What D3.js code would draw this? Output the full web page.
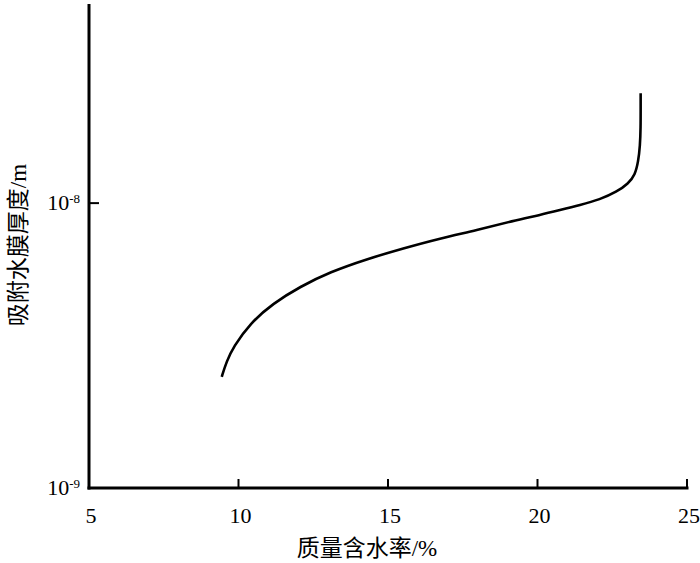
<!DOCTYPE html>
<html><head><meta charset="utf-8">
<script src="https://cdn.jsdelivr.net/npm/d3@7"></script>
<style>body{margin:0;background:#fff}svg{display:block}
.num{font-family:"Liberation Serif","DejaVu Serif",serif}
.cjk{font-family:"Liberation Serif","Noto Sans CJK SC",serif}
</style>
</head><body>
<svg id="c" width="700" height="563"></svg>
<script>
const waterContent = [9.44, 9.60, 9.83, 10.38, 11.16, 12.06, 13.06, 14.29, 15.51, 16.74, 17.97, 19.19, 20.08, 20.75, 21.42, 22.09, 22.65, 23.04, 23.26, 23.37, 23.43, 23.45, 23.45, 23.45];
const filmThickness = [2.457e-9, 2.78e-9, 3.13e-9, 3.78e-9, 4.45e-9, 5.09e-9, 5.73e-9, 6.36e-9, 6.94e-9, 7.52e-9, 8.04e-9, 8.67e-9, 9.08e-9, 9.45e-9, 9.84e-9, 1.030e-8, 1.095e-8, 1.173e-8, 1.254e-8, 1.40e-8, 1.59e-8, 1.85e-8, 2.15e-8, 2.43e-8];
const xTicks = [5, 10, 15, 20, 25];
const yTicks = [1e-9, 1e-8];
const yTickLabels = ["-9", "-8"];
const xLabel = "质量含水率/%";
const yLabel = "吸附水膜厚度/m";

const svg = d3.select("#c");
const x = d3.scaleLinear().domain([5, 25]).range([89, 687]);
const y = d3.scaleLog().domain([1e-9, 5e-8]).range([488, 4]);

const data = waterContent.map((v, i) => [v, filmThickness[i]]);
svg.append("path").datum(data)
  .attr("d", d3.line().x(d => x(d[0])).y(d => y(d[1])).curve(d3.curveBasis))
  .attr("fill", "none").attr("stroke", "#000").attr("stroke-width", 2.6);

// axes
svg.append("line").attr("x1", x(5)).attr("x2", x(5)).attr("y1", y(5e-8)).attr("y2", y(1e-9) + 1.5)
  .attr("stroke", "#000").attr("stroke-width", 3);
svg.append("line").attr("x1", x(5) - 1.5).attr("x2", x(25) + 1.5).attr("y1", y(1e-9)).attr("y2", y(1e-9))
  .attr("stroke", "#000").attr("stroke-width", 3);

xTicks.forEach(t => {
  if (t !== 5) svg.append("line").attr("x1", x(t)).attr("x2", x(t)).attr("y1", y(1e-9)).attr("y2", y(1e-9) - 9)
    .attr("stroke", "#000").attr("stroke-width", 2);
  svg.append("text").attr("class", "num").attr("x", x(t) + 2).attr("y", 523).attr("text-anchor", "middle")
    .attr("font-size", 22).text(t);
});

yTicks.forEach((t, i) => {
  if (t !== 1e-9) svg.append("line").attr("x1", x(5)).attr("x2", x(5) + 10).attr("y1", y(t)).attr("y2", y(t))
    .attr("stroke", "#000").attr("stroke-width", 2);
  const tx = svg.append("text").attr("class", "num").attr("x", 80).attr("y", y(t) + 7).attr("text-anchor", "end")
    .attr("font-size", 22);
  tx.append("tspan").text("10");
  tx.append("tspan").attr("font-size", 13).attr("dy", -7).text(yTickLabels[i]);
});

svg.append("text").attr("class", "cjk").attr("x", 367).attr("y", 556).attr("text-anchor", "middle")
  .attr("font-size", 23).text(xLabel);
svg.append("text").attr("class", "cjk").attr("transform", "translate(26,245) rotate(-90)").attr("text-anchor", "middle")
  .attr("font-size", 23).text(yLabel);
</script>
</body></html>
